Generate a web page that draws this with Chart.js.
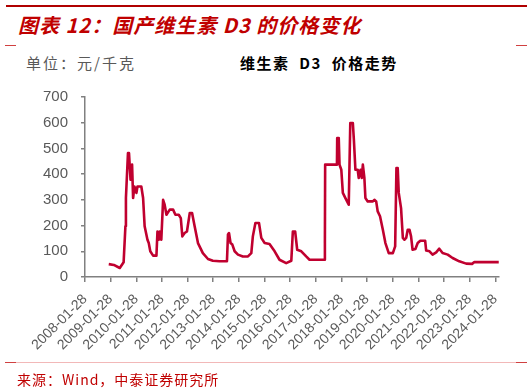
<!DOCTYPE html>
<html>
<head>
<meta charset="utf-8">
<script src="https://cdn.jsdelivr.net/npm/chart.js@4.4.0/dist/chart.umd.min.js"></script>
<style>
    body { margin: 0; background: #fff; width: 531px; height: 391px; position: relative; overflow: hidden; font-family: "Noto Sans CJK SC", sans-serif; }
    .rule { position: absolute; }
    .txt { position: absolute; white-space: pre; line-height: 1; }
    #wrap { position: absolute; left: 0; top: 0; width: 531px; height: 391px; }
</style>
</head>
<body>
<div class="rule" style="left:6px;top:5px;width:521px;height:1.5px;background:#B00000"></div>
<div class="txt" style="left:18px;top:15px;font-size:20px;font-weight:bold;font-style:italic;color:#C00000;letter-spacing:1px">图表 12：国产维生素 D3 的价格变化</div>
<div class="rule" style="left:5px;top:45px;width:11px;height:1px;background:#D04040"></div>
<div class="rule" style="left:516px;top:45px;width:11px;height:1px;background:#D04040"></div>
<div class="txt" style="left:26px;top:55px;font-size:15px;color:#595959;letter-spacing:2px">单位：元/千克</div>
<div class="txt" style="left:240px;top:55px;font-size:15px;font-weight:bold;color:#000;letter-spacing:1.5px">维生素  D3  价格走势</div>
<div id="wrap"><canvas id="priceChart" width="531" height="391"></canvas></div>
<div class="rule" style="left:5px;top:362px;width:522px;height:1px;background:#F2B8B8"></div>
<div class="rule" style="left:5px;top:362px;width:11px;height:1px;background:#D04040"></div>
<div class="rule" style="left:516px;top:362px;width:11px;height:1px;background:#D04040"></div>
<div class="txt" style="left:17px;top:372px;font-size:14px;color:#C00000;letter-spacing:1px">来源：Wind，中泰证券研究所</div>

<script>
// dates as decimal years, prices in 元/千克
var dates = [2009.00, 2009.20, 2009.43, 2009.58, 2009.65, 2009.67, 2009.75, 2009.79, 2009.85, 2009.91,
    2009.95, 2010.00, 2010.08, 2010.12, 2010.27, 2010.34, 2010.40, 2010.51, 2010.56, 2010.62,
    2010.73, 2010.86, 2010.90, 2010.95, 2010.99, 2011.05, 2011.12, 2011.18, 2011.25, 2011.38,
    2011.51, 2011.60, 2011.73, 2011.81, 2011.87, 2011.96, 2012.05, 2012.16, 2012.25, 2012.35,
    2012.48, 2012.67, 2012.87, 2013.06, 2013.32, 2013.61, 2013.65, 2013.69, 2013.75, 2013.82,
    2013.91, 2014.04, 2014.23, 2014.43, 2014.56, 2014.62, 2014.72, 2014.86, 2014.95, 2015.08,
    2015.27, 2015.47, 2015.66, 2015.92, 2016.12, 2016.18, 2016.27, 2016.35, 2016.51, 2016.70,
    2016.83, 2017.42, 2017.43, 2017.44, 2017.90, 2017.91, 2017.97, 2018.00, 2018.07, 2018.13,
    2018.23, 2018.36, 2018.42, 2018.52, 2018.56, 2018.62, 2018.71, 2018.75, 2018.82, 2018.87,
    2018.91, 2018.97, 2019.01, 2019.10, 2019.30, 2019.36, 2019.43, 2019.49, 2019.58, 2019.69,
    2019.79, 2019.92, 2020.08, 2020.17, 2020.22, 2020.27, 2020.31, 2020.40, 2020.47, 2020.53,
    2020.60, 2020.66, 2020.73, 2020.79, 2020.85, 2020.96, 2021.05, 2021.15, 2021.34, 2021.38,
    2021.51, 2021.63, 2021.77, 2021.89, 2022.02, 2022.22, 2022.41, 2022.67, 2022.94, 2023.17,
    2023.26, 2024.21];
var prices = [50, 47, 35, 57, 197, 307, 482, 482, 378, 437,
    307, 352, 327, 352, 352, 307, 197, 145, 132, 100,
    83, 83, 177, 145, 177, 145, 300, 281, 242, 262,
    262, 242, 242, 229, 158, 171, 177, 249, 249, 197,
    132, 93, 70, 63, 61, 61, 165, 171, 132, 126,
    100, 87, 80, 80, 93, 158, 210, 210, 152, 132,
    128, 100, 67, 54, 63, 177, 177, 106, 100, 80,
    67, 67, 132, 437, 437, 540, 540, 437, 417, 327,
    307, 281, 599, 599, 534, 417, 417, 385, 417, 385,
    437, 385, 307, 294, 294, 300, 294, 255, 236, 184,
    132, 93, 93, 119, 424, 424, 327, 268, 152, 145,
    152, 184, 184, 158, 106, 109, 132, 141, 141, 103,
    100, 87, 96, 110, 93, 87, 74, 61, 52, 51,
    58, 58];
var tickLabels = ['2008-01-28', '2009-01-28', '2010-01-28', '2011-01-28', '2012-01-28', '2013-01-28',
    '2014-01-28', '2015-01-28', '2016-01-28', '2017-01-28', '2018-01-28', '2019-01-28',
    '2020-01-28', '2021-01-28', '2022-01-28', '2023-01-28', '2024-01-28'];

var tickYears = tickLabels.map(function (s) { return parseInt(s.slice(0, 4)) + 27 / 365; });
var points = dates.map(function (d, i) { return { x: d, y: prices[i] }; });

var axisGrey = '#808080';
var ctx = document.getElementById('priceChart').getContext('2d');
var myChart = new Chart(ctx, {
    type: 'line',
    data: {
        datasets: [{
            label: '维生素D3',
            data: points,
            borderColor: '#C0002F',
            borderWidth: 2.6,
            borderJoinStyle: 'round',
            pointRadius: 0,
            tension: 0
        }]
    },
    options: {
        responsive: false,
        animation: false,
        layout: { padding: { left: 0, top: 97, right: 32, bottom: 0 } },
        plugins: { legend: { display: false }, tooltip: { enabled: false } },
        scales: {
            x: {
                type: 'linear',
                min: tickYears[0],
                max: 2024.22,
                afterBuildTicks: function (scale) {
                    scale.ticks = tickYears.map(function (v) { return { value: v }; });
                },
                afterFit: function (scale) { scale.height = 114; },
                grid: { drawOnChartArea: false, drawTicks: true, tickLength: 5, color: axisGrey, lineWidth: 1.5 },
                border: { display: true, color: axisGrey, width: 1.5 },
                ticks: {
                    autoSkip: false,
                    minRotation: 45,
                    maxRotation: 45,
                    padding: 9,
                    color: '#595959',
                    font: { family: 'Liberation Sans', size: 14 },
                    callback: function (value, index) { return tickLabels[index]; }
                }
            },
            y: {
                min: 0,
                max: 700,
                afterFit: function (scale) { scale.width = 85; },
                grid: { drawOnChartArea: false, drawTicks: true, tickLength: 4, color: axisGrey, lineWidth: 1.5 },
                border: { display: true, color: axisGrey, width: 1.5 },
                ticks: {
                    stepSize: 100,
                    padding: 13,
                    color: '#595959',
                    font: { family: 'Liberation Sans', size: 15 }
                }
            }
        }
    }
});
</script>
</body>
</html>
